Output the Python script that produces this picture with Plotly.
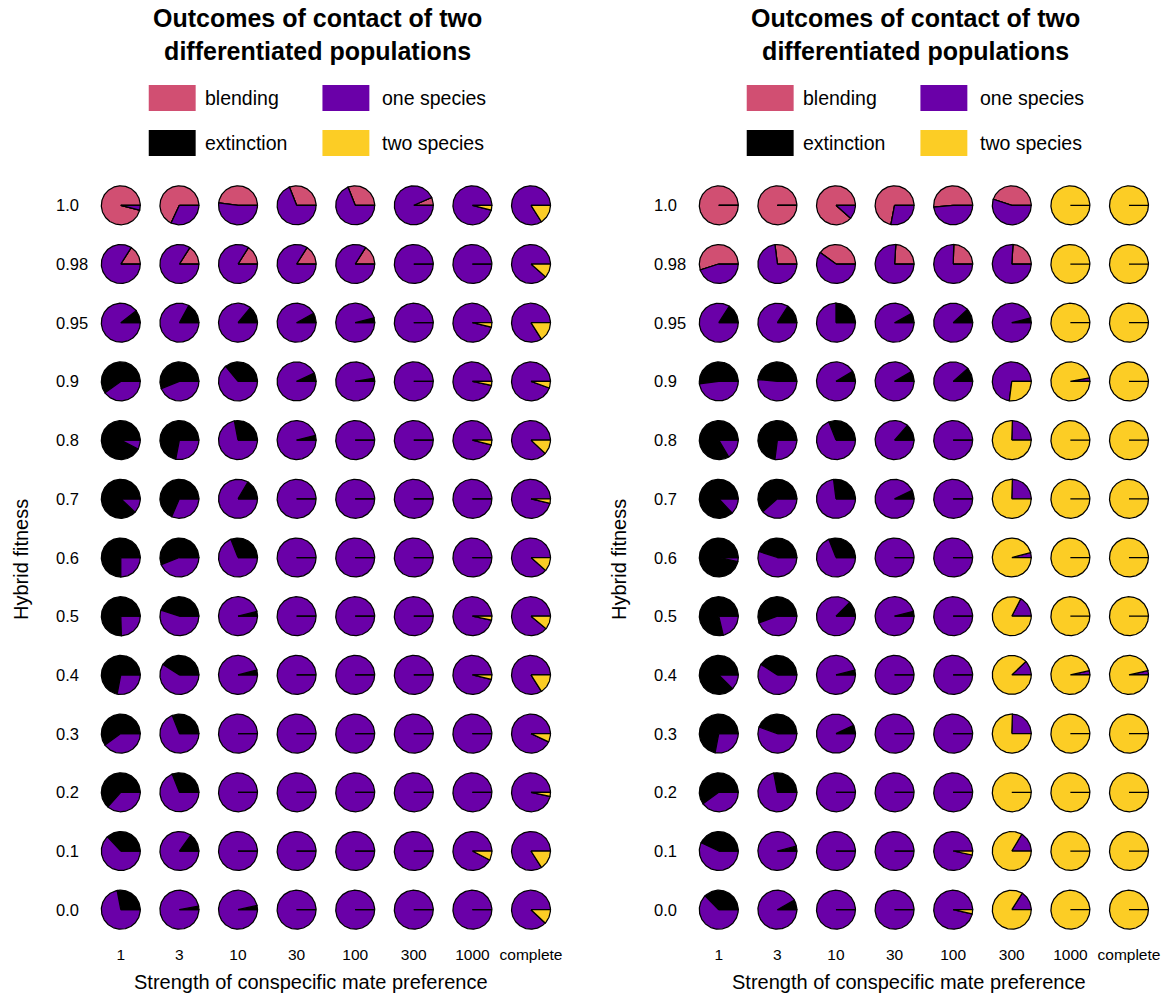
import numpy as np
import plotly.graph_objects as go

# ---------------------------------------------------------------------------
# Categories
# ---------------------------------------------------------------------------
preference = ["1", "3", "10", "30", "100", "300", "1000", "complete"]
hybrid_fitness = ["1.0", "0.98", "0.95", "0.9", "0.8", "0.7", "0.6",
                  "0.5", "0.4", "0.3", "0.2", "0.1", "0.0"]
outcomes = ["blending", "extinction", "one species", "two species"]
outcome_colors = ["#D14F72", "#000000", "#6A00A8", "#FCCD25"]

# ---------------------------------------------------------------------------
# Outcome proportions, rows = hybrid fitness (1.0 ... 0.0),
# columns = strength of conspecific mate preference (1 ... complete)
# ---------------------------------------------------------------------------
# left panel
left_blending = [
    [0.96, 0.68, 0.48, 0.31, 0.31, 0.066, 0, 0],
    [0.16, 0.16, 0.16, 0.16, 0.16, 0, 0, 0],
    [0, 0, 0, 0, 0, 0, 0, 0],
    [0, 0, 0, 0, 0, 0, 0, 0],
    [0, 0, 0, 0, 0, 0, 0, 0],
    [0, 0, 0, 0, 0, 0, 0, 0],
    [0, 0, 0, 0, 0, 0, 0, 0],
    [0, 0, 0, 0, 0, 0, 0, 0],
    [0, 0, 0, 0, 0, 0, 0, 0],
    [0, 0, 0, 0, 0, 0, 0, 0],
    [0, 0, 0, 0, 0, 0, 0, 0],
    [0, 0, 0, 0, 0, 0, 0, 0],
    [0, 0, 0, 0, 0, 0, 0, 0],
]
left_extinction = [
    [0, 0, 0, 0, 0, 0, 0, 0],
    [0, 0, 0, 0, 0, 0, 0, 0],
    [0.105, 0.17, 0.14, 0.08, 0.04, 0, 0, 0],
    [0.60, 0.56, 0.36, 0.07, 0.027, 0, 0, 0],
    [0.925, 0.72, 0.28, 0.04, 0, 0, 0, 0],
    [0.88, 0.685, 0.165, 0, 0, 0, 0, 0],
    [0.75, 0.56, 0.31, 0, 0, 0, 0, 0],
    [0.755, 0.45, 0.04, 0, 0, 0, 0, 0],
    [0.72, 0.41, 0.04, 0, 0, 0, 0, 0],
    [0.60, 0.31, 0, 0, 0, 0, 0, 0],
    [0.635, 0.31, 0, 0, 0, 0, 0, 0],
    [0.37, 0.15, 0, 0, 0, 0, 0, 0],
    [0.28, 0.03, 0.035, 0, 0, 0, 0, 0],
]
left_one_species = [
    [0.04, 0.32, 0.52, 0.69, 0.69, 0.934, 0.96, 0.84],
    [0.84, 0.84, 0.84, 0.84, 0.84, 1, 1, 0.885],
    [0.895, 0.83, 0.86, 0.92, 0.96, 1, 0.963, 0.84],
    [0.40, 0.44, 0.64, 0.93, 0.973, 1, 0.967, 0.945],
    [0.075, 0.28, 0.72, 0.96, 1, 1, 0.96, 0.88],
    [0.12, 0.315, 0.835, 1, 1, 1, 1, 0.963],
    [0.25, 0.44, 0.69, 1, 1, 1, 1, 0.885],
    [0.245, 0.55, 0.96, 1, 1, 1, 0.967, 0.89],
    [0.28, 0.59, 0.96, 1, 1, 1, 0.963, 0.84],
    [0.40, 0.69, 1, 1, 1, 1, 1, 0.93],
    [0.365, 0.69, 1, 1, 1, 1, 1, 0.966],
    [0.63, 0.85, 1, 1, 1, 1, 0.924, 0.84],
    [0.72, 0.97, 0.965, 1, 1, 1, 1, 0.88],
]
left_two_species = [
    [0, 0, 0, 0, 0, 0, 0.04, 0.16],
    [0, 0, 0, 0, 0, 0, 0, 0.115],
    [0, 0, 0, 0, 0, 0, 0.037, 0.16],
    [0, 0, 0, 0, 0, 0, 0.033, 0.055],
    [0, 0, 0, 0, 0, 0, 0.04, 0.12],
    [0, 0, 0, 0, 0, 0, 0, 0.037],
    [0, 0, 0, 0, 0, 0, 0, 0.115],
    [0, 0, 0, 0, 0, 0, 0.033, 0.11],
    [0, 0, 0, 0, 0, 0, 0.037, 0.16],
    [0, 0, 0, 0, 0, 0, 0, 0.07],
    [0, 0, 0, 0, 0, 0, 0, 0.034],
    [0, 0, 0, 0, 0, 0, 0.076, 0.16],
    [0, 0, 0, 0, 0, 0, 0, 0.12],
]

# right panel
right_blending = [
    [1, 1, 0.885, 0.72, 0.515, 0.45, 0, 0],
    [0.55, 0.27, 0.40, 0.24, 0.245, 0.24, 0, 0],
    [0, 0, 0, 0, 0, 0, 0, 0],
    [0, 0, 0, 0, 0, 0, 0, 0],
    [0, 0, 0, 0, 0, 0, 0, 0],
    [0, 0, 0, 0, 0, 0, 0, 0],
    [0, 0, 0, 0, 0, 0, 0, 0],
    [0, 0, 0, 0, 0, 0, 0, 0],
    [0, 0, 0, 0, 0, 0, 0, 0],
    [0, 0, 0, 0, 0, 0, 0, 0],
    [0, 0, 0, 0, 0, 0, 0, 0],
    [0, 0, 0, 0, 0, 0, 0, 0],
    [0, 0, 0, 0, 0, 0, 0, 0],
]
right_extinction = [
    [0, 0, 0, 0, 0, 0, 0, 0],
    [0, 0, 0, 0, 0, 0, 0, 0],
    [0.16, 0.16, 0.25, 0.08, 0.12, 0.04, 0, 0],
    [0.52, 0.485, 0.086, 0.085, 0.115, 0, 0, 0],
    [0.835, 0.73, 0.31, 0.135, 0, 0, 0, 0],
    [0.87, 0.615, 0.27, 0.072, 0, 0, 0, 0],
    [0.967, 0.45, 0.31, 0, 0, 0, 0, 0],
    [0.787, 0.555, 0.125, 0.04, 0, 0, 0, 0],
    [0.875, 0.41, 0.04, 0, 0, 0, 0, 0],
    [0.72, 0.445, 0.07, 0, 0, 0, 0, 0],
    [0.60, 0.28, 0, 0, 0, 0, 0, 0],
    [0.43, 0.04, 0, 0, 0, 0, 0, 0],
    [0.375, 0.082, 0, 0, 0, 0, 0, 0],
]
right_one_species = [
    [0, 0, 0.115, 0.28, 0.485, 0.55, 0, 0],
    [0.45, 0.73, 0.60, 0.76, 0.755, 0.76, 0, 0],
    [0.84, 0.84, 0.75, 0.92, 0.88, 0.96, 0, 0],
    [0.48, 0.515, 0.914, 0.915, 0.885, 0.73, 0.03, 0],
    [0.165, 0.27, 0.69, 0.865, 1, 0.245, 0, 0],
    [0.13, 0.385, 0.73, 0.928, 1, 0.245, 0, 0],
    [0.033, 0.55, 0.69, 1, 1, 0.04, 0, 0],
    [0.213, 0.445, 0.875, 0.96, 1, 0.174, 0, 0],
    [0.125, 0.59, 0.96, 1, 1, 0.12, 0.035, 0.035],
    [0.28, 0.555, 0.93, 1, 1, 0.245, 0, 0],
    [0.40, 0.72, 1, 1, 1, 0, 0, 0],
    [0.57, 0.96, 1, 1, 0.967, 0.164, 0, 0],
    [0.625, 0.918, 1, 1, 0.965, 0.16, 0, 0],
]
right_two_species = [
    [0, 0, 0, 0, 0, 0, 1, 1],
    [0, 0, 0, 0, 0, 0, 1, 1],
    [0, 0, 0, 0, 0, 0, 1, 1],
    [0, 0, 0, 0, 0, 0.27, 0.97, 1],
    [0, 0, 0, 0, 0, 0.755, 1, 1],
    [0, 0, 0, 0, 0, 0.755, 1, 1],
    [0, 0, 0, 0, 0, 0.96, 1, 1],
    [0, 0, 0, 0, 0, 0.826, 1, 1],
    [0, 0, 0, 0, 0, 0.88, 0.965, 0.965],
    [0, 0, 0, 0, 0, 0.755, 1, 1],
    [0, 0, 0, 0, 0, 1, 1, 1],
    [0, 0, 0, 0, 0.033, 0.836, 1, 1],
    [0, 0, 0, 0, 0.035, 0.84, 1, 1],
]

panels = [
    [left_blending, left_extinction, left_one_species, left_two_species],
    [right_blending, right_extinction, right_one_species, right_two_species],
]

# ---------------------------------------------------------------------------
# Page geometry (pixels)
# ---------------------------------------------------------------------------
W, H = 1173, 1000
STEP = 58.7            # pixels between neighbouring pies
PIE_R = 0.332          # pie radius, in grid units
PANEL_SHIFT = 599      # horizontal offset of the second panel
FIRST_COL_PX = 121
TOP_ROW_PX = 205.3

FONT = "Liberation Sans, Arial, Helvetica, sans-serif"


def px(x):
    return x / W


def py(y):
    return 1 - y / H


def pie_polygons(tables):
    """Closed polygons for every slice, grouped by outcome.

    Slices run counter-clockwise from 3 o'clock in outcome order,
    each polygon starting and ending at the pie centre."""
    nrow = len(hybrid_fitness)
    out = [([], []) for _ in outcomes]
    for r in range(nrow):
        yc = nrow - 1 - r
        for c in range(len(preference)):
            xc = c + 1
            vals = [tab[r][c] for tab in tables]
            total = float(sum(vals))
            start = 0.0
            for k, v in enumerate(vals):
                frac = v / total
                end = start + frac * 2 * np.pi
                n = max(2, int(np.ceil(frac * 180)) + 1)
                th = np.linspace(start, end, n)
                xs = [xc] + list(xc + PIE_R * np.cos(th)) + [xc, None]
                ys = [yc] + list(yc + PIE_R * np.sin(th)) + [yc, None]
                out[k][0].extend(xs)
                out[k][1].extend(ys)
                start = end
    return out


fig = go.Figure()
annotations = []
shapes = []

for p, tables in enumerate(panels):
    suffix = "" if p == 0 else str(p + 1)
    shift = p * PANEL_SHIFT
    polys = pie_polygons(tables)
    for k, name in enumerate(outcomes):
        fig.add_trace(go.Scatter(
            x=polys[k][0], y=polys[k][1],
            mode="lines", fill="toself",
            fillcolor=outcome_colors[k],
            line=dict(color="black", width=1.25),
            name=name, showlegend=False, hoverinfo="skip",
            xaxis="x" + suffix, yaxis="y" + suffix,
        ))

    # axes: column i sits at FIRST_COL_PX + (i-1)*STEP, row j likewise
    x_lo = FIRST_COL_PX + shift - 0.5 * STEP
    x_hi = FIRST_COL_PX + shift + 7.5 * STEP
    y_top = TOP_ROW_PX - 0.5 * STEP
    y_bot = TOP_ROW_PX + 12.5 * STEP
    fig.update_layout(**{
        "xaxis" + suffix: dict(
            domain=[px(x_lo), px(x_hi)], range=[0.5, 8.5],
            anchor="y" + suffix,
            tickmode="array", tickvals=list(range(1, 9)), ticktext=preference,
            ticks="", showgrid=False, zeroline=False, showline=False,
            tickfont=dict(size=15.5, color="black", family=FONT),
            ticklabelstandoff=4, fixedrange=True,
        ),
        "yaxis" + suffix: dict(
            domain=[py(y_bot), py(y_top)], range=[-0.5, 12.5],
            anchor="x" + suffix,
            showticklabels=False, ticks="", showgrid=False,
            zeroline=False, showline=False, fixedrange=True,
        ),
    })

    # row labels, left aligned
    for j, lab in enumerate(hybrid_fitness):
        annotations.append(dict(
            text=lab, xref="paper", yref="y" + suffix,
            x=px(54 + shift), y=len(hybrid_fitness) - 1 - j,
            xanchor="left", yanchor="middle", showarrow=False,
            font=dict(size=16.5, color="black", family=FONT),
        ))

    # axis titles
    annotations.append(dict(
        text="Strength of conspecific mate preference",
        xref="paper", yref="paper", x=px(312 + shift), y=py(982),
        xanchor="center", yanchor="middle", showarrow=False,
        font=dict(size=20, color="black", family=FONT),
    ))
    annotations.append(dict(
        text="Hybrid fitness", textangle=-90,
        xref="paper", yref="paper", x=px(21 + shift), y=py(559),
        xanchor="center", yanchor="middle", showarrow=False,
        font=dict(size=20, color="black", family=FONT),
    ))

    # two-line bold title
    annotations.append(dict(
        text="<b>Outcomes of contact of two<br>differentiated populations</b>",
        xref="paper", yref="paper", x=px(318 + shift), y=py(34),
        xanchor="center", yanchor="middle", align="center", showarrow=False,
        font=dict(size=25, color="black", family=FONT),
    ))

    # legend: 2 x 2 grid of colour keys
    key_pos = {"blending": (149, 85), "one species": (323, 85),
               "extinction": (149, 130), "two species": (323, 130)}
    for k, name in enumerate(outcomes):
        kx, ky = key_pos[name]
        kx += shift
        shapes.append(dict(
            type="rect", xref="paper", yref="paper",
            x0=px(kx), x1=px(kx + 47), y0=py(ky + 26), y1=py(ky),
            fillcolor=outcome_colors[k], line=dict(width=0),
        ))
        annotations.append(dict(
            text=name, xref="paper", yref="paper",
            x=px(kx + (54 if kx - shift == 149 else 58)), y=py(ky + 13),
            xanchor="left", yanchor="middle", showarrow=False,
            font=dict(size=19.5, color="black", family=FONT),
        ))

fig.update_layout(
    width=W, height=H,
    margin=dict(l=0, r=0, t=0, b=0),
    paper_bgcolor="white", plot_bgcolor="white",
    showlegend=False,
    annotations=annotations, shapes=shapes,
    font=dict(family=FONT, color="black"),
)

fig.write_html("out.html")
